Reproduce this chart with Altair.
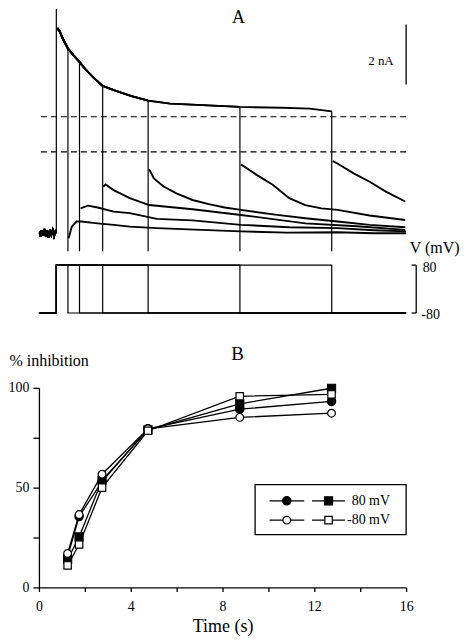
import altair as alt
import pandas as pd

FONT = "Liberation Serif"

# ---------------- Panel A : current traces ----------------
onset = 0.379
step_ends = [0.632, 0.884, 1.389, 2.379, 4.379, 6.379]

base_t = [0.0, 0.03, 0.06, 0.09, 0.12, 0.15, 0.18, 0.21, 0.24, 0.27, 0.30, 0.33, 0.36, 0.379]
base_i = [0.05, -0.12, 0.10, -0.08, 0.14, -0.10, 0.08, -0.15, 0.12, -0.05, 0.10, -0.10, 0.05, 0.0]

env_t = [0.40, 0.45, 0.52, 0.632, 0.75, 0.884, 1.0, 1.2, 1.389, 1.63, 2.0, 2.379,
         2.86, 3.56, 4.379, 5.3, 5.9, 6.379]
env_i = [6.85, 6.75, 6.5, 6.17, 5.95, 5.72, 5.5, 5.18, 4.92, 4.78, 4.59, 4.43,
         4.33, 4.28, 4.22, 4.19, 4.16, 4.07]

tail_t = [
    [0.646, 0.716, 0.821, 0.926, 1.278, 1.627, 1.979, 2.568, 3.4, 4.4, 5.4, 6.5, 7.3, 8.0],
    [0.905, 1.067, 1.278, 1.627, 1.979, 2.568, 3.347, 4.4, 5.45, 6.5, 7.3, 8.0],
    [1.40, 1.453, 1.627, 1.979, 2.4, 3.347, 4.4, 5.804, 6.93, 7.98],
    [2.40, 2.505, 2.716, 2.996, 3.347, 3.699, 4.048, 4.4, 5.101, 5.804, 6.505, 7.206, 7.98],
    [4.40, 4.752, 5.101, 5.453, 5.804, 6.154, 6.505, 7.206, 7.98],
    [6.40, 6.505, 6.857, 7.206, 7.558, 7.98],
]
tail_i = [
    [-0.17, 0.22, 0.39, 0.39, 0.33, 0.28, 0.22, 0.17, 0.12, 0.06, 0.02, 0.03, 0.0, 0.0],
    [0.83, 0.92, 0.86, 0.72, 0.67, 0.48, 0.43, 0.28, 0.20, 0.17, 0.10, 0.06],
    [1.56, 1.63, 1.44, 1.17, 0.94, 0.80, 0.61, 0.33, 0.23, 0.11],
    [2.14, 1.83, 1.56, 1.33, 1.11, 0.97, 0.86, 0.78, 0.63, 0.50, 0.39, 0.28, 0.20],
    [2.30, 1.94, 1.61, 1.17, 0.94, 0.83, 0.78, 0.59, 0.44],
    [2.41, 2.33, 2.00, 1.72, 1.39, 1.06],
]

dash_levels = [3.89, 2.72]
v_hold = -80
v_step = 80

# ---------------- Panel B : % inhibition ----------------
times = [1.25, 1.75, 2.75, 4.75, 8.75, 12.75]
filled_circle = [15.5, 35.5, 53.0, 79.5, 89.3, 93.2]
filled_square = [14.0, 25.3, 53.7, 79.0, 92.0, 99.8]
open_circle = [17.0, 36.5, 56.7, 79.5, 85.2, 87.3]
open_square = [11.0, 21.5, 50.0, 78.5, 95.8, 96.7]
series_names = ["fc", "fs", "oc", "os"]
legend_labels = ["80 mV", "-80 mV"]

# ---------------- build tables ----------------
rows = []
vrows = []
drops = []
for k, te in enumerate(step_ends):
    segs = {
        "base": list(zip(base_t, base_i)),
        "env": [(t, i) for t, i in zip(env_t, env_i) if t <= te + 1e-9],
        "tail": list(zip(tail_t[k], tail_i[k])),
    }
    for s, pts in segs.items():
        for j, (t, i) in enumerate(pts):
            rows.append({"trace": k, "seg": f"{k}-{s}", "idx": j, "t": t, "i": i})
    env_end = [i for t, i in zip(env_t, env_i) if abs(t - te) < 1e-9][0]
    drops.append({"t": te, "a": -0.6, "b": env_end})
    vpts = [(0.0, v_hold), (onset, v_hold), (onset, v_step), (te, v_step), (te, v_hold), (8.0, v_hold)]
    for j, (t, v) in enumerate(vpts):
        vrows.append({"trace": k, "idx": j, "t": t, "v": v})
drops.append({"t": onset, "a": 0.0, "b": 7.5})
traces = pd.DataFrame(rows)
proto = pd.DataFrame(vrows)
drops = pd.DataFrame(drops)

xA = alt.Scale(domain=[0, 8], nice=False, zero=False)
yA = alt.Scale(domain=[-2.833, 7.5], nice=False, zero=False)
yV = alt.Scale(domain=[-96.67, 936.67], nice=False, zero=False)


def X(f):
    return alt.X(f, scale=xA, axis=None)


def YA(f):
    return alt.Y(f, scale=yA, axis=None)


def YV(f):
    return alt.Y(f, scale=yV, axis=None)


lines_A = alt.Chart(traces).mark_line(color="black", strokeWidth=1.9, clip=True).encode(
    x=X("t:Q"), y=YA("i:Q"), detail="seg:N", order="idx:Q")

drop_rules = alt.Chart(drops).mark_rule(color="black", strokeWidth=1.2, clip=True).encode(
    x=X("t:Q"), y=YA("a:Q"), y2="b:Q")

dashed = alt.Chart(pd.DataFrame({"lvl": dash_levels})).mark_rule(
    color="black", strokeDash=[6, 4], strokeWidth=1.2).encode(y=YA("lvl:Q"))

scalebar = alt.Chart(pd.DataFrame({"t": [8.0], "a": [4.97], "b": [6.97]})).mark_rule(
    color="black", strokeWidth=1.3).encode(x=X("t:Q"), y=YA("a:Q"), y2="b:Q")

txt_nA = alt.Chart(pd.DataFrame({"t": [7.73], "i": [5.75], "label": ["2 nA"]})).mark_text(
    align="right", baseline="middle", font=FONT, fontSize=13, color="black").encode(
    x=X("t:Q"), y=YA("i:Q"), text="label:N")
txt_A = alt.Chart(pd.DataFrame({"t": [4.35], "i": [7.2], "label": ["A"]})).mark_text(
    align="center", baseline="middle", font=FONT, fontSize=18, color="black").encode(
    x=X("t:Q"), y=YA("i:Q"), text="label:N")
txt_V = alt.Chart(pd.DataFrame({"t": [8.08], "i": [-0.5], "label": ["V (mV)"]})).mark_text(
    align="left", baseline="middle", font=FONT, fontSize=16, color="black").encode(
    x=X("t:Q"), y=YA("i:Q"), text="label:N")

lines_V = alt.Chart(proto).mark_line(color="black", strokeWidth=1.2).encode(
    x=X("t:Q"), y=YV("v:Q"), detail="trace:N", order="idx:Q")

bracket = alt.Chart(pd.DataFrame({
    "t1": [8.22, 8.12, 8.12], "t2": [8.22, 8.22, 8.22],
    "v1": [v_hold, v_step, v_hold], "v2": [v_step, v_step, v_hold]})).mark_rule(
    color="black", strokeWidth=1.3).encode(x=X("t1:Q"), x2="t2:Q", y=YV("v1:Q"), y2="v2:Q")

bracket_lbl = alt.Chart(pd.DataFrame({"t": [8.36, 8.33], "v": [v_step - 8, v_hold - 5],
                                      "label": ["80", "-80"]})).mark_text(
    align="left", baseline="middle", font=FONT, fontSize=14, color="black").encode(
    x=X("t:Q"), y=YV("v:Q"), text="label:N")

panelA = alt.layer(lines_A, drop_rules, dashed, scalebar, txt_nA, txt_A, txt_V, lines_V,
                   bracket, bracket_lbl).resolve_scale(y="independent").properties(
    width=368, height=310)

# ---------------- Panel B ----------------
brows = []
for name, vals in zip(series_names, [filled_circle, filled_square, open_circle, open_square]):
    for t, v in zip(times, vals):
        brows.append({"series": name, "t": t, "v": v})
bdf = pd.DataFrame(brows)

xB = alt.Scale(domain=[0, 16], nice=False, zero=False)
yB = alt.Scale(domain=[0, 100], nice=False, zero=False)
axX = alt.Axis(values=list(range(0, 17, 2)),
               labelExpr="datum.value % 4 === 0 ? datum.label : ''",
               tickSize=4, labelPadding=8, labelFontSize=14, labelFont=FONT, labelFlush=False,
               labelOverlap=False, title="Time (s)", titleFont=FONT, titleFontSize=18,
               titleFontWeight="normal", titlePadding=4)
axY = alt.Axis(values=[0, 25, 50, 75, 100],
               labelExpr="datum.value % 50 === 0 ? datum.label : ''",
               tickSize=6, labelPadding=4, labelFontSize=14, labelFont=FONT, labelOverlap=False,
               title="% inhibition", titleFont=FONT, titleFontWeight="normal", titleAngle=0,
               titleAlign="left", titleBaseline="middle",
               titleX=-30, titleY=-27, titleFontSize=16)

shape_sc = alt.Scale(domain=series_names, range=["circle", "square", "circle", "square"])
fill_sc = alt.Scale(domain=series_names, range=["black", "black", "white", "white"])
size_sc = alt.Scale(domain=series_names, range=[70, 55, 70, 55])


def XB(f):
    return alt.X(f, scale=xB, axis=axX)


def YB(f):
    return alt.Y(f, scale=yB, axis=axY)


lines_B = alt.Chart(bdf).mark_line(color="black", strokeWidth=1.3).encode(
    x=XB("t:Q"), y=YB("v:Q"), detail="series:N")

pts_B = alt.Chart(bdf).mark_point(filled=True, stroke="black", strokeWidth=1.2, opacity=1).encode(
    x=XB("t:Q"), y=YB("v:Q"),
    shape=alt.Shape("series:N", scale=shape_sc, legend=None),
    fill=alt.Fill("series:N", scale=fill_sc, legend=None),
    size=alt.Size("series:N", scale=size_sc, legend=None))

# custom legend
leg_box = alt.Chart(pd.DataFrame({"t": [9.42], "t2": [16.0], "v": [26.5], "v2": [51.5]})).mark_rect(
    fill="white", stroke="black", strokeWidth=1.3).encode(
    x=XB("t:Q"), x2="t2:Q", y=YB("v:Q"), y2="v2:Q")
row_y = [43.4, 33.7]
leg_lines = alt.Chart(pd.DataFrame({
    "t": [10.05, 11.9, 10.05, 11.9], "t2": [11.56, 13.33, 11.56, 13.33],
    "v": [row_y[0], row_y[0], row_y[1], row_y[1]]})).mark_rule(
    color="black", strokeWidth=1.3).encode(x=XB("t:Q"), x2="t2:Q", y=YB("v:Q"))
leg_sym = alt.Chart(pd.DataFrame({
    "t": [10.8, 12.62, 10.8, 12.62], "v": [row_y[0], row_y[0], row_y[1], row_y[1]],
    "series": series_names})).mark_point(filled=True, stroke="black", strokeWidth=1.2, opacity=1).encode(
    x=XB("t:Q"), y=YB("v:Q"),
    shape=alt.Shape("series:N", scale=shape_sc, legend=None),
    fill=alt.Fill("series:N", scale=fill_sc, legend=None),
    size=alt.Size("series:N", scale=size_sc, legend=None))
leg_txt = alt.Chart(pd.DataFrame({"t": [15.3, 15.3], "v": row_y, "label": legend_labels})).mark_text(
    align="right", baseline="middle", font=FONT, fontSize=14, color="black").encode(
    x=XB("t:Q"), y=YB("v:Q"), text="label:N")
title_B = alt.Chart(pd.DataFrame({"t": [8.65], "v": [117], "label": ["B"]})).mark_text(
    align="center", baseline="middle", font=FONT, fontSize=19, color="black").encode(
    x=XB("t:Q"), y=YB("v:Q"), text="label:N")

panelB = alt.layer(lines_B, pts_B, leg_box, leg_lines, leg_sym, leg_txt, title_B).properties(
    width=368, height=200)

chart = alt.vconcat(panelA, panelB, spacing=70, bounds="flush").properties(
    padding=0).configure_view(stroke=None).configure_axis(
    domainColor="black", tickColor="black", labelColor="black", titleColor="black",
    labelFont=FONT, titleFont=FONT, titleFontWeight="normal", grid=False,
    domainWidth=1.3, tickWidth=1.3).configure_text(font=FONT)

chart.save("out.html", embed_options={"renderer": "svg", "actions": False})
